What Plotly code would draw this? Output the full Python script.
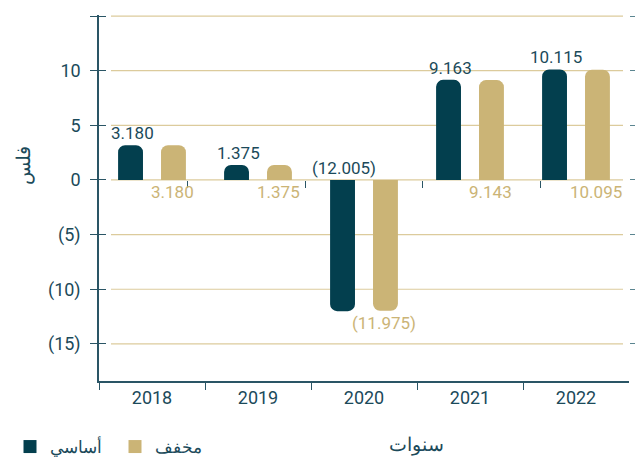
import plotly.graph_objects as go

years = ["2018", "2019", "2020", "2021", "2022"]
basic = [3.180, 1.375, -12.005, 9.163, 10.115]
diluted = [3.180, 1.375, -11.975, 9.143, 10.095]
series_names = ["أساسي", "مخفف"]
y_tickvals = [15, 10, 5, 0, -5, -10, -15]
y_ticktext = ["15", "10", "5", "0", "(5)", "(10)", "(15)"]
y_title = "فلس"
x_title = "سنوات"

DARK = "#033f4e"
GOLD = "#cbb476"
TEXT = "#1b4a5a"
GRID = "#dccb9c"
AXIS = "#2a5565"
FONT = "Roboto, Liberation Sans, sans-serif"

W, H = 643, 461
OFF = 7  # page offset of the figure inside the window
YMIN, YMAX = -18.4, 15.1
XDOM = [(98 - OFF) / W, (628 - OFF) / W]
YDOM = [1 - (380 - OFF) / H, 1 - (14 - OFF) / H]


def px(x):
    return (x - OFF) / W


def py(y):
    return 1 - (y - OFF) / H


def fmt(v):
    s = f"{abs(v):.3f}"
    return f"({s})" if v < 0 else s


fig = go.Figure()
fig.add_trace(go.Bar(x=years, y=basic, name=series_names[0], marker_color=DARK,
                     marker_line_width=0, showlegend=False))
fig.add_trace(go.Bar(x=years, y=diluted, name=series_names[1], marker_color=GOLD,
                     marker_line_width=0, showlegend=False))

# legend entries with square symbols
for nm, col in zip(series_names, [DARK, GOLD]):
    fig.add_trace(go.Scatter(x=[None], y=[None], mode="markers", name=nm,
                             marker=dict(symbol="square", size=13, color=col),
                             showlegend=True, hoverinfo="skip"))

# data labels (category index positions)
for i, v in enumerate(basic):
    fig.add_annotation(x=i, y=max(v, 0), text=fmt(v), showarrow=False, xref="x", yref="y",
                       xshift=-20, yanchor="bottom", yshift=0,
                       font=dict(family=FONT, size=17, color=TEXT))
for i, v in enumerate(diluted):
    fig.add_annotation(x=i, y=min(v, 0), text=fmt(v), showarrow=False, xref="x", yref="y",
                       xshift=20, yanchor="top", yshift=0,
                       font=dict(family=FONT, size=17, color=GOLD))

# gridlines (inset from the axis line)
for v in y_tickvals:
    fig.add_shape(type="line", xref="paper", yref="y", x0=px(110), x1=px(622), y0=v, y1=v,
                  line=dict(color=GRID, width=1.2), layer="below")

fig.add_annotation(x=px(22), y=py(165), xref="paper", yref="paper", text=y_title,
                   xanchor="center", yanchor="middle",
                   textangle=-90, showarrow=False, font=dict(family=FONT, size=19, color=TEXT))
fig.add_annotation(x=px(415), y=py(443), xref="paper", yref="paper", text=x_title,
                   xanchor="center", yanchor="middle",
                   showarrow=False, font=dict(family=FONT, size=19, color=TEXT))

zero_pos = YDOM[0] + (0 - YMIN) / (YMAX - YMIN) * (YDOM[1] - YDOM[0])

fig.update_layout(
    width=W, height=H,
    margin=dict(l=0, r=0, t=0, b=0),
    paper_bgcolor="white", plot_bgcolor="white",
    barmode="group", bargap=0.19, bargroupgap=0.42, barcornerradius=7,
    font=dict(family=FONT, size=18, color=TEXT),
    showlegend=True,
    legend=dict(orientation="h", x=px(9), xanchor="left", y=py(428), yanchor="top",
                font=dict(family=FONT, size=17, color=TEXT), itemwidth=30,
                entrywidth=60),
    xaxis=dict(type="category", categoryorder="array", categoryarray=years, domain=XDOM,
               showline=True, linecolor=AXIS, linewidth=1.5, automargin=False,
               ticks="outside", tickson="boundaries", ticklen=7, tickcolor=AXIS,
               showgrid=False, zeroline=False, tickfont=dict(size=18, color=TEXT)),
    xaxis2=dict(type="category", categoryorder="array", categoryarray=years, domain=XDOM,
                overlaying="x", anchor="free", position=zero_pos, automargin=False,
                showline=False, ticks="outside", tickson="boundaries",
                ticklen=7, tickcolor=AXIS, showticklabels=False, showgrid=False,
                zeroline=False, side="bottom"),
    yaxis=dict(range=[YMIN, YMAX], domain=YDOM, tickvals=y_tickvals, ticktext=y_ticktext,
               showline=True, linecolor=AXIS, linewidth=1.5, ticks="outside",
               ticklen=7, tickcolor=AXIS, showgrid=False, zeroline=False, automargin=False,
               tickfont=dict(size=18, color=TEXT), ticklabelstandoff=6),
    yaxis2=dict(range=[YMIN, YMAX], domain=YDOM, tickvals=y_tickvals, overlaying="y",
                anchor="x", side="left", ticks="inside", ticklen=7, tickcolor=AXIS,
                automargin=False, showticklabels=False, showgrid=False, zeroline=False,
                showline=False),
    yaxis3=dict(range=[YMIN, YMAX], domain=YDOM, tickvals=y_tickvals, overlaying="y",
                anchor="x", side="right", ticks="outside", ticklen=14, tickcolor="#5b8590",
                automargin=False, showticklabels=False, showgrid=False, zeroline=False,
                showline=False),
)

# invisible traces to activate overlay axes
fig.add_trace(go.Scatter(x=years, y=[0] * len(years), xaxis="x2", yaxis="y2", mode="markers",
                         marker=dict(opacity=0), showlegend=False, hoverinfo="skip"))
fig.add_trace(go.Scatter(x=years, y=[0] * len(years), xaxis="x", yaxis="y3", mode="markers",
                         marker=dict(opacity=0), showlegend=False, hoverinfo="skip"))

fig.write_html("out.html")
